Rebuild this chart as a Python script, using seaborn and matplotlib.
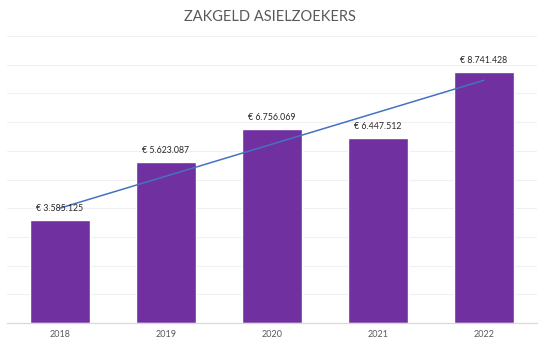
import matplotlib
matplotlib.use("Agg")
import matplotlib.pyplot as plt
import seaborn as sns
import numpy as np
import pandas as pd

years = ["2018", "2019", "2020", "2021", "2022"]
values = [3585125, 5623087, 6756069, 6447512, 8741428]
labels = ["€ 3.585.125", "€ 5.623.087", "€ 6.756.069", "€ 6.447.512", "€ 8.741.428"]
title = "ZAKGELD ASIELZOEKERS"

sns.set_theme(style="white")
plt.rcParams['font.family'] = ['Lato', 'DejaVu Sans']

df = pd.DataFrame({"year": years, "value": values})

fig = plt.figure(figsize=(5.4, 3.45), dpi=100)
ax = fig.add_axes([7/540, 22/345, 530/540, 287/345])

sns.barplot(data=df, x="year", y="value", color="#7030A0", saturation=1,
            width=0.56, ax=ax, zorder=2)

# linear trendline
xs = np.arange(len(values))
coef = np.polyfit(xs, np.array(values, dtype=float), 1)
ax.plot(xs, np.polyval(coef, xs), color="#4472C4", lw=1.1, zorder=3)

for i, (v, lab) in enumerate(zip(values, labels)):
    ax.annotate(lab, (i, v), xytext=(0, 5), textcoords="offset points",
                ha="center", va="bottom", fontsize=6.3, color="#262626")

ax.set_ylim(0, 10_000_000)
ax.set_xlim(-0.5, 4.5)
ax.set_yticks(np.arange(0, 10_000_001, 1_000_000))
ax.yaxis.grid(True, color="#F0F0F0", lw=0.8, zorder=0)
ax.set_yticklabels([])
ax.tick_params(axis="y", length=0)
ax.tick_params(axis="x", length=0, labelsize=6.5, labelcolor="#595959", pad=5)
ax.set_xlabel("")
ax.set_ylabel("")
for s in ["top", "right", "left"]:
    ax.spines[s].set_visible(False)
ax.spines["bottom"].set_color("#D9D9D9")
ax.spines["bottom"].set_linewidth(0.9)

fig.text(0.5, 1 - 17/345, title, ha="center", va="center", fontsize=10.5, color="#595959")

fig.savefig("out.png", dpi=100, facecolor="white")
